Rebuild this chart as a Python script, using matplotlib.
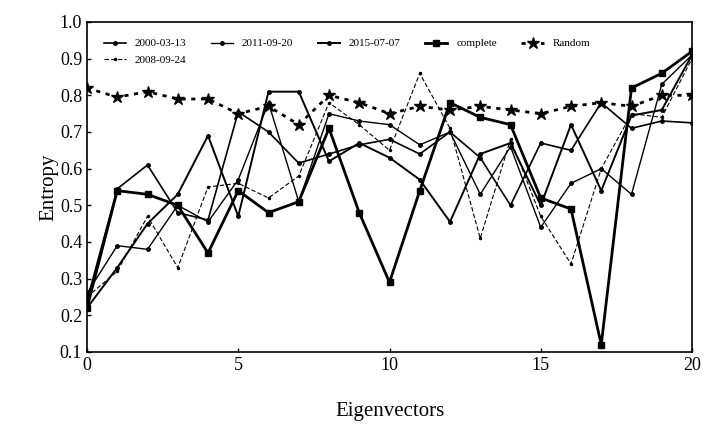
import matplotlib
matplotlib.use("Agg")
import matplotlib.pyplot as plt

x = list(range(21))
s2000 = [0.24, 0.545, 0.61, 0.48, 0.46, 0.755, 0.70, 0.615, 0.64, 0.665, 0.68, 0.64, 0.70, 0.63, 0.50, 0.67, 0.65, 0.78, 0.71, 0.73, 0.725]
s2011 = [0.26, 0.39, 0.38, 0.50, 0.455, 0.57, 0.78, 0.51, 0.75, 0.73, 0.72, 0.665, 0.70, 0.53, 0.66, 0.44, 0.56, 0.60, 0.53, 0.83, 0.91]
s2015 = [0.22, 0.33, 0.45, 0.53, 0.69, 0.47, 0.81, 0.81, 0.62, 0.67, 0.63, 0.57, 0.455, 0.64, 0.67, 0.50, 0.72, 0.54, 0.745, 0.76, 0.91]
complete = [0.22, 0.54, 0.53, 0.50, 0.37, 0.54, 0.48, 0.51, 0.71, 0.48, 0.29, 0.54, 0.78, 0.74, 0.72, 0.52, 0.49, 0.12, 0.82, 0.86, 0.92]
random_ = [0.82, 0.795, 0.81, 0.79, 0.79, 0.75, 0.77, 0.72, 0.80, 0.78, 0.75, 0.77, 0.76, 0.77, 0.76, 0.75, 0.77, 0.78, 0.77, 0.80, 0.80]
s2008 = [0.25, 0.32, 0.47, 0.33, 0.55, 0.56, 0.52, 0.58, 0.78, 0.72, 0.65, 0.86, 0.71, 0.41, 0.68, 0.47, 0.34, 0.60, 0.75, 0.74, 0.90]

plt.rcParams['font.family'] = ['Liberation Serif', 'DejaVu Serif']

fig = plt.figure(figsize=(7.08, 4.28), dpi=100)
ax = fig.add_axes([87/708, 1-352/428, 605/708, 330/428])

h1, = ax.plot(x, s2000, '-', color='black', lw=1.2, marker='o', ms=2.5, label='2000-03-13')
h2, = ax.plot(x, s2011, '-', color='black', lw=1.0, marker='o', ms=2.5, label='2011-09-20')
h3, = ax.plot(x, s2015, '-', color='black', lw=1.4, marker='o', ms=2.5, label='2015-07-07')
h4, = ax.plot(x, complete, '-', color='black', lw=2.0, marker='s', ms=5, label='complete')
h5, = ax.plot(x, random_, '--', color='black', lw=2.0, dashes=(1.5, 2), marker='*', ms=9, label='Random')
h6, = ax.plot(x, s2008, '--', color='black', lw=0.8, marker='.', ms=3, dashes=(4, 2), label='2008-09-24')

ax.set_xlim(0, 20)
ax.set_ylim(0.1, 1.0)
ax.set_xticks([0, 5, 10, 15, 20])
ax.set_yticks([0.1, 0.2, 0.3, 0.4, 0.5, 0.6, 0.7, 0.8, 0.9, 1.0])
ax.set_yticklabels(['0.1', '0.2', '0.3', '0.4', '0.5', '0.6', '0.7', '0.8', '0.9', '1.0'])
ax.tick_params(direction='in', length=3, labelsize=13, width=1)
for sp in ax.spines.values():
    sp.set_linewidth(1.2)
ax.set_xlabel('Eigenvectors', fontsize=15, labelpad=20)
ax.set_ylabel('Entropy', fontsize=15, labelpad=1)

leg = ax.legend(handles=[h1, h6, h2, h3, h4, h5], ncol=5, loc='upper left',
                bbox_to_anchor=(0.0, 1.0), fontsize=8, frameon=False,
                handlelength=2.0, columnspacing=2.2, borderaxespad=1.1, labelspacing=0.6)

fig.savefig('out.png', dpi=100)
